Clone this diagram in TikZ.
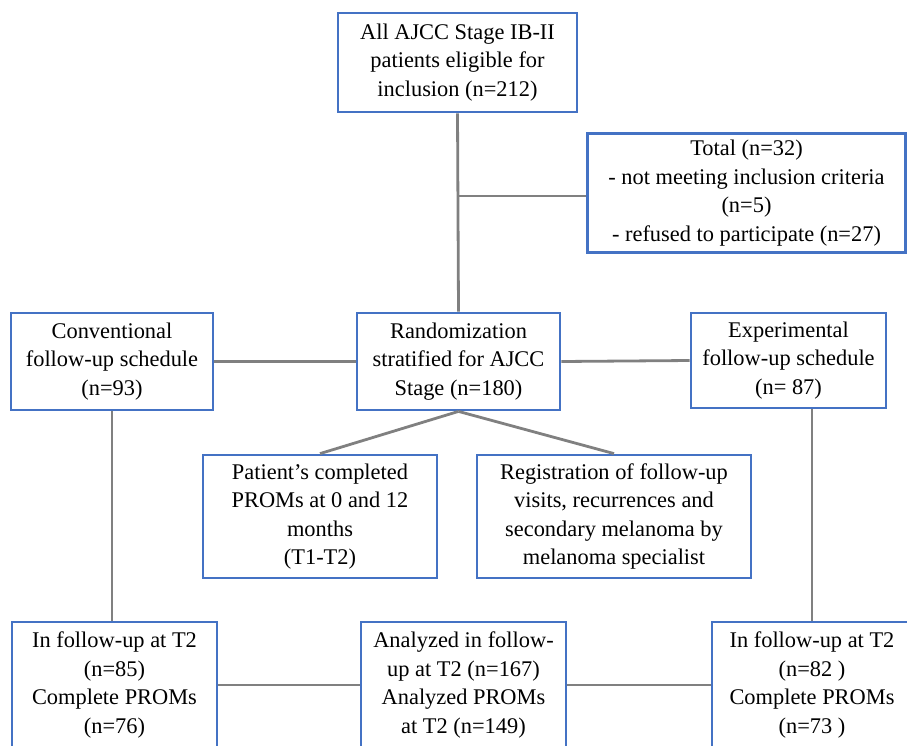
\documentclass[tikz,border=0pt]{standalone}
\usepackage{fontspec}
\setmainfont{Liberation Serif}
\usepackage{tikz}

\definecolor{boxblue}{RGB}{68,114,196}
\definecolor{linegray}{RGB}{128,128,128}

\begin{document}
\begin{tikzpicture}[x=1pt,y=-1pt,
  box/.style={draw=boxblue, line width=2.8pt, fill=white, align=center,
    inner sep=0pt, font=\fontsize{22.4}{28.5}\selectfont},
  link/.style={draw=linegray, line width=2.8pt}]
\useasboundingbox (0,0) rectangle (907,745);
\node[box, minimum width=239, minimum height=99](all) at (457.5,62.5)
  {All AJCC Stage IB-II\\patients eligible for\\inclusion (n=212)};
\node[box, minimum width=318, minimum height=119](total) at (746.5,193)
  {Total (n=32)\\- not meeting inclusion criteria\\(n=5)\\- refused to participate (n=27)};
\node[box, minimum width=202, minimum height=97](conv) at (112,361.5)
  {Conventional\\follow-up schedule\\(n=93)};
\node[box, minimum width=203, minimum height=97](rand) at (458.5,361.5)
  {Randomization\\stratified for AJCC\\Stage (n=180)};
\node[box, minimum width=195, minimum height=95](exper) at (788.5,360.5)
  {Experimental\\follow-up schedule\\(n= 87)};
\node[box, minimum width=234, minimum height=123](proms) at (320,516.5)
  {Patient’s completed\\PROMs at 0 and 12\\months\\(T1-T2)};
\node[box, minimum width=274, minimum height=123](regis) at (614,516.5)
  {Registration of follow-up\\visits, recurrences and\\secondary melanoma by\\melanoma specialist};
\node[box, minimum width=205, minimum height=126](convT) at (114.5,685)
  {In follow-up at T2\\(n=85)\\Complete PROMs\\(n=76)};
\node[box, minimum width=205, minimum height=126](anal) at (463.5,685)
  {Analyzed in follow-\\up at T2 (n=167)\\Analyzed PROMs\\at T2 (n=149)};
\node[box, minimum width=200, minimum height=126](experT) at (812,685)
  {In follow-up at T2\\(n=82 )\\Complete PROMs\\(n=73 )};
\coordinate (excl) at (458,196);

\draw[link] (all.south) -- (rand.north);
\draw[link] (excl) -- (excl -| total.west);
\foreach \from/\to in {conv.east/rand.west,rand.east/exper.west,
  rand.south/proms.north,rand.south/regis.north,
  convT.east/anal.west,anal.east/experT.west}
  \draw[link] (\from) -- (\to);
\draw[link] (conv.south) -- (conv.south |- convT.north);
\draw[link] (experT.north) -- (experT.north |- exper.south);
\end{tikzpicture}
\end{document}
